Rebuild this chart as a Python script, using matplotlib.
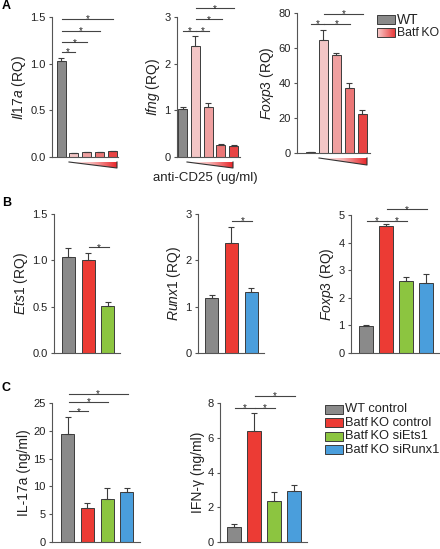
import numpy as np
import matplotlib
matplotlib.use('Agg')
import matplotlib.pyplot as plt
from matplotlib.colors import LinearSegmentedColormap
from matplotlib.patches import Polygon, Rectangle

plt.rcParams['font.family'] = ['Liberation Sans', 'DejaVu Sans']
plt.rcParams['mathtext.fontset'] = 'custom'
plt.rcParams['mathtext.it'] = 'Liberation Sans:italic'
plt.rcParams['mathtext.rm'] = 'Liberation Sans'

# ---- data ----
# panel A: WT + BatfKO with increasing anti-CD25
il17a_a = [1.03, 0.04, 0.05, 0.05, 0.06]
il17a_a_err = [0.03, 0.004, 0.005, 0.004, 0.006]
ifng_a = [1.02, 2.37, 1.08, 0.26, 0.24]
ifng_a_err = [0.05, 0.22, 0.07, 0.01, 0.01]
foxp3_a = [0.5, 64.6, 56.0, 37.0, 22.5]
foxp3_a_err = [0.3, 5.7, 1.4, 2.8, 2.1]

# panel B: WT control, BatfKO control, siEts1 / siRunx1
ets1_b = [1.04, 1.00, 0.51]
ets1_b_err = [0.09, 0.08, 0.04]
runx1_b = [1.19, 2.38, 1.31]
runx1_b_err = [0.06, 0.35, 0.09]
foxp3_b = [0.99, 4.59, 2.61, 2.52]
foxp3_b_err = [0.03, 0.10, 0.15, 0.33]

# panel C: cytokines
il17_c = [19.5, 6.05, 7.7, 8.95]
il17_c_err = [2.9, 0.9, 2.05, 0.85]
ifng_c = [0.88, 6.38, 2.38, 2.91]
ifng_c_err = [0.15, 1.05, 0.49, 0.37]

groups_c = ['WT control', 'Batf\u2009KO control', 'Batf\u2009KO siEts1', 'Batf\u2009KO siRunx1']

# significance bars: (from, to, height)
sig_il17a_a = [(0, 1, 1.125), (0, 2, 1.23), (0, 3, 1.35), (0, 4, 1.48)]
sig_ifng_a = [(0, 1, 2.7), (1, 2, 2.7), (1, 3, 2.95), (1, 4, 3.19)]
sig_foxp3_a = [(0, 1, 74), (1, 3, 74), (1, 4, 79.5)]
sig_ets1_b = [(1, 2, 1.14)]
sig_runx1_b = [(1, 2, 2.85)]
sig_foxp3_b = [(0, 1, 4.78), (1, 2, 4.78), (1, 3, 5.2)]
sig_il17_c = [(0, 1, 23.5), (0, 2, 25.2), (0, 3, 26.6)]
sig_ifng_c = [(0, 1, 7.74), (1, 2, 7.74), (1, 3, 8.4)]

GRAY = '#8a8a8a'
RED = '#ec3b34'
GREEN = '#8cc540'
BLUE = '#4a9edc'
PINKS = [GRAY, '#f3c6c6', '#efa0a0', '#eb7676', '#e84444']
EDGE = '#3c3c3c'

W, H = 440, 549
fig = plt.figure(figsize=(W / 100, H / 100), dpi=100)


def px_axes(l, r, t, b):
    return fig.add_axes([l / W, 1 - b / H, (r - l) / W, (b - t) / H])


def bar_panel(box, vals, errs, colors, xlim, ylim, ticks, fmt, ylabel, sigs, bw):
    ax = px_axes(*box)
    x = np.arange(len(vals))
    ax.bar(x, vals, bw, color=colors, edgecolor=EDGE, linewidth=0.7,
           yerr=[np.zeros(len(errs)), errs],
           error_kw=dict(ecolor=EDGE, elinewidth=0.8, capsize=2, capthick=0.8))
    ax.set_xlim(*xlim)
    ax.set_ylim(*ylim)
    ax.set_yticks(ticks)
    ax.set_yticklabels([fmt.format(t) for t in ticks])
    ax.set_xticks([])
    for s in ['top', 'right']:
        ax.spines[s].set_visible(False)
    for s in ['left', 'bottom']:
        ax.spines[s].set_color('#555555')
        ax.spines[s].set_linewidth(0.8)
    ax.tick_params(axis='y', length=2.5, width=0.8, color='#555555',
                   labelsize=8, pad=2, labelcolor='#222222')
    ax.set_ylabel(ylabel, fontsize=10, labelpad=2, color='#222222')
    for a, b, y in sigs:
        ax.plot([a + 0.05, b + 0.05], [y, y], color='#444444', lw=0.8, clip_on=False)
        ax.annotate('*', ((a + b) / 2 + 0.05, y), xytext=(0, -2.5),
                    textcoords='offset points', ha='center', va='baseline',
                    fontsize=7, color='#222222', annotation_clip=False)
    return ax


# ---- row A ----
bar_panel((52, 118, 17, 157), il17a_a, il17a_a_err, PINKS, (-0.7, 4.42), (0, 1.5),
          [0, 0.5, 1.0, 1.5], '{:.1f}', r'$\mathit{Il17a}$ (RQ)', sig_il17a_a, 0.7)
bar_panel((177, 240, 17, 157), ifng_a, ifng_a_err, PINKS, (-0.45, 4.5), (0, 3),
          [0, 1, 2, 3], '{:g}', r'$\mathit{Ifng}$ (RQ)', sig_ifng_a, 0.7)
bar_panel((297, 370, 13, 153), foxp3_a, foxp3_a_err, PINKS, (-1.05, 4.6), (0, 80),
          [0, 20, 40, 60, 80], '{:g}', r'$\mathit{Foxp3}$ (RQ)', sig_foxp3_a, 0.7)

# ---- row B ----
bar_panel((54, 120, 214, 353), ets1_b, ets1_b_err, [GRAY, RED, GREEN], (-0.73, 2.61), (0, 1.5),
          [0, 0.5, 1.0, 1.5], '{:.1f}', r'$\mathit{Ets1}$ (RQ)', sig_ets1_b, 0.66)
bar_panel((198, 264, 214, 353), runx1_b, runx1_b_err, [GRAY, RED, BLUE], (-0.68, 2.63), (0, 3),
          [0, 1, 2, 3], '{:g}', r'$\mathit{Runx1}$ (RQ)', sig_runx1_b, 0.66)
bar_panel((351, 440, 215, 353), foxp3_b, foxp3_b_err, [GRAY, RED, GREEN, BLUE], (-0.75, 3.7), (0, 5),
          [0, 1, 2, 3, 4, 5], '{:g}', r'$\mathit{Foxp3}$ (RQ)', sig_foxp3_b, 0.66)

# ---- row C ----
bar_panel((52, 140, 403, 542), il17_c, il17_c_err, [GRAY, RED, GREEN, BLUE], (-0.79, 3.67), (0, 25),
          [0, 5, 10, 15, 20, 25], '{:g}', 'IL-17a (ng/ml)', sig_il17_c, 0.66)
bar_panel((220, 307, 403, 542), ifng_c, ifng_c_err, [GRAY, RED, GREEN, BLUE], (-0.7, 3.65), (0, 8),
          [0, 2, 4, 6, 8], '{:g}', 'IFN-\u03b3 (ng/ml)', sig_ifng_c, 0.66)

# ---- overlay for letters, triangles, legends ----
ov = fig.add_axes([0, 0, 1, 1], zorder=-1)
ov.patch.set_alpha(0)
ov.axis('off')
grad = np.linspace(0, 1, 256).reshape(1, -1)
tri_cmap = LinearSegmentedColormap.from_list('tri', ['#ffffff', '#f7b0b0', '#e8262a'])
box_cmap = LinearSegmentedColormap.from_list('box', ['#f8d0d0', '#e83a3a'])


def triangle(x0, x1, y0, y1):
    im = ov.imshow(grad, cmap=tri_cmap, extent=(x0, x1, y1, y0), aspect='auto', zorder=1)
    poly = Polygon([(x0, y0), (x1, y0), (x1, y1)], closed=True, fc='none', ec='none')
    ov.add_patch(poly)
    im.set_clip_path(poly)
    ov.plot([x0, x1, x1], [y0, y1, y0], color='#333333', lw=0.8, zorder=2)


triangle(69, 117, 162, 168)
triangle(187, 233, 162, 168)
triangle(319, 367, 158, 165)

ov.text(205, 178, 'anti-CD25 (ug/ml)', fontsize=9.5, ha='center', va='center', color='#222222')

for lab, y in [('A', 6), ('B', 203), ('C', 388)]:
    ov.text(2, y, lab, fontsize=9, fontweight='bold', ha='left', va='center')

# legend A
ov.add_patch(Rectangle((377, 15), 18, 9, fc=GRAY, ec=EDGE, lw=0.7, zorder=2))
ov.imshow(grad, cmap=box_cmap, extent=(377, 395, 37, 28), aspect='auto', zorder=1)
ov.add_patch(Rectangle((377, 28), 18, 9, fc='none', ec=EDGE, lw=0.7, zorder=2))
ov.text(397, 19.5, 'WT', fontsize=10, va='center', ha='left', color='#222222')
ov.text(397, 32.5, 'Batf\u2009KO', fontsize=8.8, va='center', ha='left', color='#222222')

# legend C
for i, (lab, col) in enumerate(zip(groups_c, [GRAY, RED, GREEN, BLUE])):
    yc = 409.5 + i * 13.4
    ov.add_patch(Rectangle((325, yc - 4.5), 18, 9, fc=col, ec=EDGE, lw=0.7, zorder=2))
    ov.text(345, yc, lab, fontsize=9.3, va='center', ha='left', color='#222222')

ov.set_xlim(0, W)
ov.set_ylim(H, 0)

fig.savefig('out.png', dpi=100)
